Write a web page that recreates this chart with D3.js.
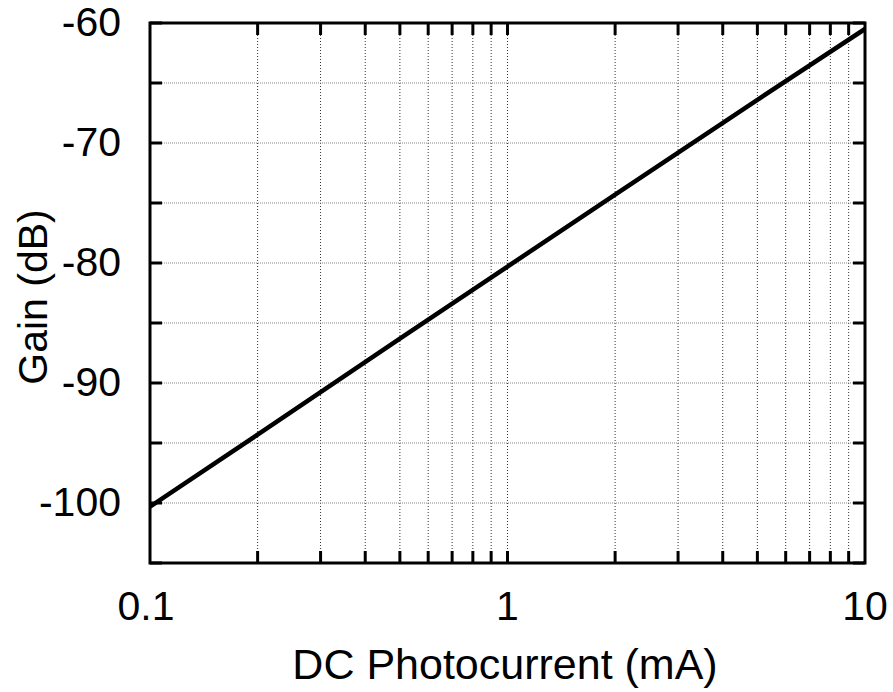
<!DOCTYPE html>
<html>
<head>
<meta charset="utf-8">
<script src="https://cdn.jsdelivr.net/npm/d3@7"></script>
<style>
  html, body { margin: 0; padding: 0; background: #fff; }
  svg { display: block; }
  text { font-family: "Liberation Sans", Arial, Helvetica, sans-serif; fill: #000; }
</style>
</head>
<body>
<svg id="chart" width="893" height="692"></svg>
<script>
// Data
const photocurrent = [0.1, 0.2, 0.5, 1, 2, 5, 10];          // mA
const gainDb       = [-100.3, -94.3, -86.3, -80.3, -74.3, -66.4, -60.5];
const xTickLabels  = [0.1, 1, 10];
const yTickLabels  = [-100, -90, -80, -70, -60];
const yDomain      = [-105, -60];
const xDomain      = [0.1, 10];
const xLabel = "DC Photocurrent (mA)";
const yLabel = "Gain (dB)";

const svg = d3.select("#chart");
const pL = 150, pR = 865, pT = 23, pB = 563;

const x = d3.scaleLog().domain(xDomain).range([pL, pR]);
const y = d3.scaleLinear().domain(yDomain).range([pB, pT]);

// minor log positions
const xMinor = [];
for (let dec = 0.1; dec < 10; dec *= 10) {
  for (let m = 1; m <= 9; m++) {
    const v = +(dec * m).toPrecision(3);
    if (v > xDomain[0] && v < xDomain[1]) xMinor.push(v);
  }
}
const yMinor = d3.range(yDomain[0], yDomain[1] + 0.001, 5);

// grid
const grid = svg.append("g");
grid.selectAll("line.vg").data(xMinor).join("line")
  .attr("x1", d => x(d)).attr("x2", d => x(d))
  .attr("y1", pT).attr("y2", pB)
  .attr("stroke", "#333").attr("stroke-width", 1).attr("stroke-dasharray", "1,2");
grid.selectAll("line.hg").data(yMinor.filter(v => v > yDomain[0] && v < yDomain[1])).join("line")
  .attr("x1", pL).attr("x2", pR)
  .attr("y1", d => y(d)).attr("y2", d => y(d))
  .attr("stroke", "#888").attr("stroke-width", 1).attr("stroke-dasharray", "1,1");

// tick marks (inward, both sides)
const tk = 12;
const ticks = svg.append("g").attr("stroke", "#000").attr("stroke-width", 3);
xMinor.forEach(v => {
  ticks.append("line").attr("x1", x(v)).attr("x2", x(v)).attr("y1", pB).attr("y2", pB - tk);
  ticks.append("line").attr("x1", x(v)).attr("x2", x(v)).attr("y1", pT).attr("y2", pT + tk);
});
yMinor.forEach(v => {
  ticks.append("line").attr("x1", pL).attr("x2", pL + tk).attr("y1", y(v)).attr("y2", y(v));
  ticks.append("line").attr("x1", pR).attr("x2", pR - tk).attr("y1", y(v)).attr("y2", y(v));
});

// data line
svg.append("defs").append("clipPath").attr("id", "clip")
  .append("rect").attr("x", pL).attr("y", pT).attr("width", pR - pL).attr("height", pB - pT);
svg.append("path")
  .datum(photocurrent.map((c, i) => [c, gainDb[i]]))
  .attr("clip-path", "url(#clip)")
  .attr("fill", "none").attr("stroke", "#000").attr("stroke-width", 4.5)
  .attr("d", d3.line().x(d => x(d[0])).y(d => y(d[1])));

// frame
svg.append("rect").attr("x", pL).attr("y", pT)
  .attr("width", pR - pL).attr("height", pB - pT)
  .attr("fill", "none").attr("stroke", "#000").attr("stroke-width", 3);

// tick labels
svg.append("g").selectAll("text").data(yTickLabels).join("text")
  .attr("x", 121).attr("y", d => y(d) + 13)
  .attr("text-anchor", "end").attr("font-size", 41)
  .text(d => d);
svg.append("g").selectAll("text").data(xTickLabels).join("text")
  .attr("x", d => x(d) - (d < 1 ? 4 : 0)).attr("y", 620)
  .attr("text-anchor", "middle").attr("font-size", 41)
  .text(d => d);

// axis labels
svg.append("text").attr("x", 505).attr("y", 679)
  .attr("text-anchor", "middle").attr("font-size", 43).text(xLabel);
svg.append("text").attr("transform", "translate(47,297) rotate(-90)")
  .attr("text-anchor", "middle").attr("font-size", 41).text(yLabel);
</script>
</body>
</html>
